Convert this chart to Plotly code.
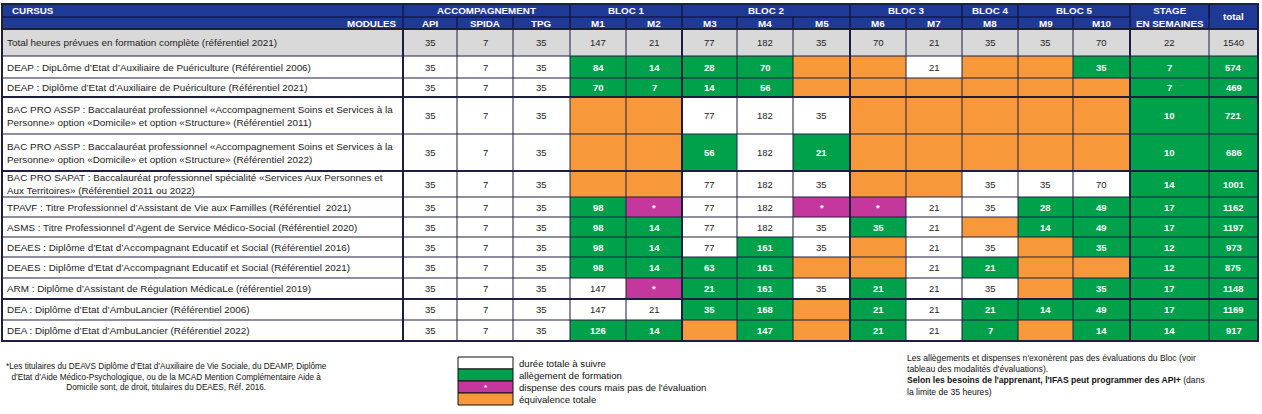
# Tableau des allègements de formation par cursus (heatmap + annotations)

import plotly.graph_objects as go

# ---- data ----
rows = [
    "Total heures prévues en formation complète (référentiel 2021)",
    "DEAP : DipLôme d’Etat d’Auxiliaire de Puériculture (Référentiel 2006)",
    "DEAP : Diplôme d’Etat d’Auxiliaire de Puériculture (Référentiel 2021)",
    "BAC PRO ASSP : Baccalauréat professionnel «Accompagnement Soins et Services à la<br>Personne» option «Domicile» et option «Structure» (Référentiel 2011)",
    "BAC PRO ASSP : Baccalauréat professionnel «Accompagnement Soins et Services à la<br>Personne» option «Domicile» et option «Structure» (Référentiel 2022)",
    "BAC PRO SAPAT : Baccalauréat professionnel spécialité «Services Aux Personnes et<br>Aux Territoires» (Référentiel 2011 ou 2022)",
    "TPAVF : Titre Professionnel d’Assistant de Vie aux Familles (Référentiel  2021)",
    "ASMS : Titre Professionnel d’Agent de Service Médico-Social (Référentiel 2020)",
    "DEAES : Diplôme d’Etat d’Accompagnant Educatif et Social (Référentiel 2016)",
    "DEAES : Diplôme d’Etat d’Accompagnant Educatif et Social (Référentiel 2021)",
    "ARM : Diplôme d’Assistant de Régulation MédicaLe (référentiel 2019)",
    "DEA : Diplôme d’Etat d’AmbuLancier (Référentiel 2006)",
    "DEA : Diplôme d’Etat d’AmbuLancier (Référentiel 2022)",
]

modules = ["API", "SPIDA", "TPG", "M1", "M2", "M3", "M4", "M5", "M6", "M7",
           "M8", "M9", "M10", "STAGE", "total"]

groups = ["ACCOMPAGNEMENT", "BLOC 1", "BLOC 2", "BLOC 3", "BLOC 4", "BLOC 5"]
group_span = [3, 2, 3, 2, 1, 2]

# values (None = équivalence totale, "*" = dispense des cours)
# kinds: T total row, W durée totale, G allègement, P dispense, O équivalence
api = [35, 35, 35, 35, 35, 35, 35, 35, 35, 35, 35, 35, 35]
api_kind = "TWWWWWWWWWWWW"
spida = [7, 7, 7, 7, 7, 7, 7, 7, 7, 7, 7, 7, 7]
spida_kind = "TWWWWWWWWWWWW"
tpg = [35, 35, 35, 35, 35, 35, 35, 35, 35, 35, 35, 35, 35]
tpg_kind = "TWWWWWWWWWWWW"
m1 = [147, 84, 70, None, None, None, 98, 98, 98, 98, 147, 147, 126]
m1_kind = "TGGOOOGGGGWWG"
m2 = [21, 14, 7, None, None, None, "*", 14, 14, 14, "*", 21, 14]
m2_kind = "TGGOOOPGGGPWG"
m3 = [77, 28, 14, 77, 56, 77, 77, 77, 77, 63, 21, 35, None]
m3_kind = "TGGWGWWWWGGGO"
m4 = [182, 70, 56, 182, 182, 182, 182, 182, 161, 161, 161, 168, 147]
m4_kind = "TGGWWWWWGGGGG"
m5 = [35, None, None, 35, 21, 35, "*", 35, 35, None, 35, None, None]
m5_kind = "TOOWGWPWWOWOO"
m6 = [70, None, None, None, None, None, "*", 35, None, None, 21, 21, 21]
m6_kind = "TOOOOOPGOOGGG"
m7 = [21, 21, None, None, None, None, 21, 21, 21, 21, 21, 21, 21]
m7_kind = "TWOOOOWWWWWWW"
m8 = [35, None, None, None, None, 35, 35, None, 35, 21, 35, 21, 7]
m8_kind = "TOOOOWWOWGWGG"
m9 = [35, None, None, None, None, 35, 28, 14, None, None, None, 14, None]
m9_kind = "TOOOOWGGOOOGO"
m10 = [70, 35, None, None, None, 70, 49, 49, 35, None, 35, 49, 14]
m10_kind = "TGOOOWGGGOGGG"
stage = [22, 7, 7, 10, 10, 14, 17, 17, 12, 12, 17, 17, 14]
stage_kind = "TGGGGGGGGGGGG"
total = [1540, 574, 469, 721, 686, 1001, 1162, 1197, 973, 875, 1148, 1169, 917]
total_kind = "TGGGGGGGGGGGG"

values = [api, spida, tpg, m1, m2, m3, m4, m5, m6, m7, m8, m9, m10, stage, total]
kinds = [api_kind, spida_kind, tpg_kind, m1_kind, m2_kind, m3_kind, m4_kind,
         m5_kind, m6_kind, m7_kind, m8_kind, m9_kind, m10_kind, stage_kind, total_kind]

legend_labels = ["durée totale à suivre", "allègement de formation",
                 "dispense des cours mais pas de l'évaluation", "équivalence totale"]

# ---- layout (pixel units) ----
W, H = 1262, 414
col_edges = [2, 403, 457, 513, 570, 626, 682, 737, 793, 850, 906, 962, 1018,
             1073, 1130, 1209, 1258]
row_edges = [4, 17, 29, 56, 78, 97, 134, 171, 197, 217, 237, 257, 278, 299, 320, 341]

WHITE, GREEN, PINK, ORANGE, GREY, BLUE = ("#FFFFFF", "#00A14B", "#C4379C",
                                          "#F7993A", "#D9D9D9", "#1F3A96")
palette = [WHITE, GREEN, PINK, ORANGE, GREY, BLUE]
code = {"W": 0, "G": 1, "P": 2, "O": 3, "T": 4}
LINE = "#1E1E40"
HEAD_LINE = "#13194E"
FONT = "Liberation Sans, Arial, sans-serif"

colorscale = []
for k, c in enumerate(palette):
    colorscale += [[k / 6, c], [(k + 1) / 6, c]]

z = [[5] * 16, [5] * 16]
for i in range(len(rows)):
    z.append([4 if i == 0 else 0] + [code[kinds[j][i]] for j in range(len(modules))])

fig = go.Figure(go.Heatmap(x=col_edges, y=row_edges, z=z, zmin=-0.5, zmax=5.5,
                           colorscale=colorscale, showscale=False, hoverinfo="skip"))

ann = []
shapes = []


def text(x, y, s, size=9.5, color="#222222", xanchor="center", align="center"):
    ann.append(dict(x=x, y=y, text=s, showarrow=False, xanchor=xanchor, yanchor="middle",
                    align=align, font=dict(family=FONT, size=size, color=color)))


def line(x0, y0, x1, y1, color=LINE, width=1):
    shapes.append(dict(type="line", x0=x0, y0=y0, x1=x1, y1=y1,
                       line=dict(color=color, width=width)))


# body text
for i, label in enumerate(rows):
    yc = (row_edges[i + 2] + row_edges[i + 3]) / 2
    text(col_edges[0] + 3, yc, label, size=9.9, xanchor="left", align="left")
    for j in range(len(modules)):
        k = kinds[j][i]
        v = values[j][i]
        if k == "O" or v is None:
            continue
        xc = (col_edges[j + 1] + col_edges[j + 2]) / 2
        if k in "GP":
            text(xc, yc, "<b>%s</b>" % v, color="white")
        else:
            text(xc, yc, str(v))

# header text
HS = 9.8
hy1 = (row_edges[0] + row_edges[1]) / 2
hy2 = (row_edges[1] + row_edges[2]) / 2
text(col_edges[0] + 8, hy1, "<b>CURSUS</b>", size=HS, color="white", xanchor="left")
text(col_edges[1] - 5, hy2, "<b>MODULES</b>", size=HS, color="white", xanchor="right")
start = 1
group_edges = [col_edges[1]]
for g, span in zip(groups, group_span):
    x0, x1 = col_edges[start], col_edges[start + span]
    text((x0 + x1) / 2, hy1, "<b>%s</b>" % g, size=HS, color="white")
    start += span
    group_edges.append(x1)
for j, m in enumerate(modules[:13]):
    text((col_edges[j + 1] + col_edges[j + 2]) / 2, hy2, "<b>%s</b>" % m, size=HS, color="white")
hy = (row_edges[0] + row_edges[2]) / 2
text((col_edges[14] + col_edges[15]) / 2, hy, "<b>STAGE<br>EN SEMAINES</b>", size=HS, color="white")
text((col_edges[15] + col_edges[16]) / 2, hy, "<b>total</b>", size=HS, color="white")

# header separators
for x in group_edges + [col_edges[15]]:
    line(x, row_edges[0], x, row_edges[1], HEAD_LINE, 1.5)
for x in col_edges[1:15]:
    line(x, row_edges[1], x, row_edges[2], HEAD_LINE, 1.5)
line(col_edges[15], row_edges[0], col_edges[15], row_edges[2], HEAD_LINE, 1.5)
line(col_edges[0], row_edges[1], col_edges[14], row_edges[1], HEAD_LINE, 1.5)

# body grid
thick_cols = {col_edges[1], col_edges[6], col_edges[9], col_edges[14]}
thick_rows = {row_edges[2], row_edges[5], row_edges[7], row_edges[13]}
for x in col_edges[1:-1]:
    line(x, row_edges[2], x, row_edges[-1], width=2 if x in thick_cols else 1)
for y in row_edges[2:-1]:
    line(col_edges[0], y, col_edges[-1], y, width=2 if y in thick_rows else 1)
shapes.append(dict(type="rect", x0=col_edges[0], y0=row_edges[0], x1=col_edges[-1],
                   y1=row_edges[-1], line=dict(color=LINE, width=2)))

# legend
leg_x0, leg_x1, leg_y0, leg_h = 458, 513, 357, 12
for k, lab in enumerate(legend_labels):
    y0 = leg_y0 + k * leg_h
    shapes.append(dict(type="rect", x0=leg_x0, y0=y0, x1=leg_x1, y1=y0 + leg_h,
                       fillcolor=palette[k], line=dict(color="#111111", width=1)))
    text(leg_x1 + 4, y0 + leg_h / 2, lab, size=9.6, color="#111111", xanchor="left")
text((leg_x0 + leg_x1) / 2, leg_y0 + 2.5 * leg_h, "<b>*</b>", size=8, color="white")

# notes
text(166, 377,
     "*Les titulaires du DEAVS Diplôme d’Etat d’Auxiliaire de Vie Sociale, du DEAMP, Diplôme<br>"
     "d’Etat d’Aide Médico-Psychologique, ou de la MCAD Mention Complémentaire Aide à<br>"
     "Domicile sont, de droit, titulaires du DEAES, Réf. 2016.", size=8.2, color="#111111")
text(905, 375,
     "Les allègements et dispenses n'exonèrent pas des évaluations du Bloc (voir<br>"
     "tableau des modalités d'évaluations).<br>"
     "<b>Selon les besoins de l'apprenant, l'IFAS peut programmer des API+</b> (dans<br>"
     "la limite de 35 heures)", size=8.6, color="#111111", xanchor="left", align="left")

fig.update_layout(
    width=W, height=H, margin=dict(l=0, r=0, t=0, b=0),
    paper_bgcolor="white", plot_bgcolor="white",
    xaxis=dict(range=[0, W], visible=False, fixedrange=True),
    yaxis=dict(range=[H, 0], visible=False, fixedrange=True),
    annotations=ann, shapes=shapes, showlegend=False,
)

fig.write_html("out.html", post_script="document.body.style.margin='0px';",
               config={"displayModeBar": False})
